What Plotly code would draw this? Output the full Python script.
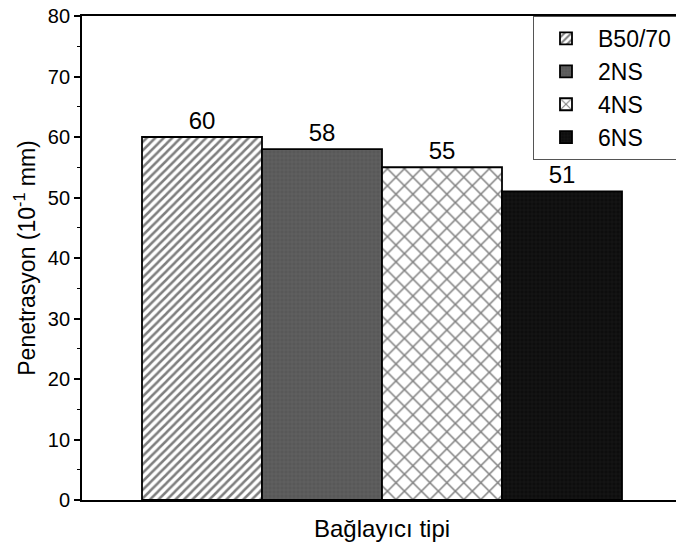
import plotly.graph_objects as go

series = ["B50/70", "2NS", "4NS", "6NS"]
values = [60, 58, 55, 51]
positions = [1, 2, 3, 4]
y_ticks = [0, 10, 20, 30, 40, 50, 60, 70, 80]

FONT = "Arial, Liberation Sans, sans-serif"

styles = {
    "B50/70": dict(color="white", pattern=dict(shape="/", fgcolor="black", bgcolor="white", size=6, solidity=0.42)),
    "2NS": dict(color="#5c5c5c", pattern=dict(shape="+", fgcolor="#727272", bgcolor="#585858", size=4, solidity=0.25)),
    "4NS": dict(color="white", pattern=dict(shape="x", fgcolor="black", bgcolor="white", size=12, solidity=0.24)),
    "6NS": dict(color="#111111", pattern=dict(shape="+", fgcolor="#2a2a2a", bgcolor="#0d0d0d", size=4, solidity=0.25)),
}

fig = go.Figure()
for name, x, v in zip(series, positions, values):
    st = styles[name]
    fig.add_trace(go.Bar(
        x=[x], y=[v], name=name, width=1,
        marker=dict(color=st["color"], pattern=st["pattern"], line=dict(color="black", width=1.8)),
        text=[str(v)], textposition="outside", cliponaxis=False,
        textfont=dict(size=24, color="black", family=FONT),
        legendgroup=name,
    ))

fig.update_layout(
    width=676, height=547,
    margin=dict(l=82, r=0, t=16, b=47, autoexpand=False),
    plot_bgcolor="white", paper_bgcolor="white",
    barmode="overlay",
    font=dict(family=FONT, color="black", size=20),
    showlegend=True,
    legend=dict(
        x=(533 - 82) / 594, y=1, xanchor="left", yanchor="top",
        bgcolor="white", bordercolor="#555555", borderwidth=1,
        font=dict(size=23, color="black", family=FONT), tracegroupgap=0,
        itemwidth=54,
    ),
    xaxis=dict(
        range=[0, 4.95], showticklabels=False, ticks="",
        showline=True, linecolor="black", linewidth=1.8, mirror=True,
        showgrid=False, zeroline=False,
    ),
    yaxis=dict(
        range=[0, 80], tickvals=y_ticks, ticks="outside", ticklen=6, tickwidth=1.5,
        tickcolor="black", tickfont=dict(size=20, family=FONT, color="black"),
        minor=dict(dtick=5, ticks="outside", ticklen=3, tickwidth=1.2, tickcolor="black", showgrid=False),
        showline=True, linecolor="black", linewidth=1.8,
        showgrid=False, zeroline=False,
        title=dict(text="Penetrasyon (10<sup>-1</sup> mm)", font=dict(size=23, family=FONT, color="black"), standoff=6),
    ),
    annotations=[dict(
        text="Bağlayıcı tipi", x=(382 - 82) / 594, y=-(528 - 500) / 484, xref="paper", yref="paper",
        xanchor="center", yanchor="middle", showarrow=False, font=dict(size=24, family=FONT, color="black"),
    )],
)

fig.write_html("out.html")
